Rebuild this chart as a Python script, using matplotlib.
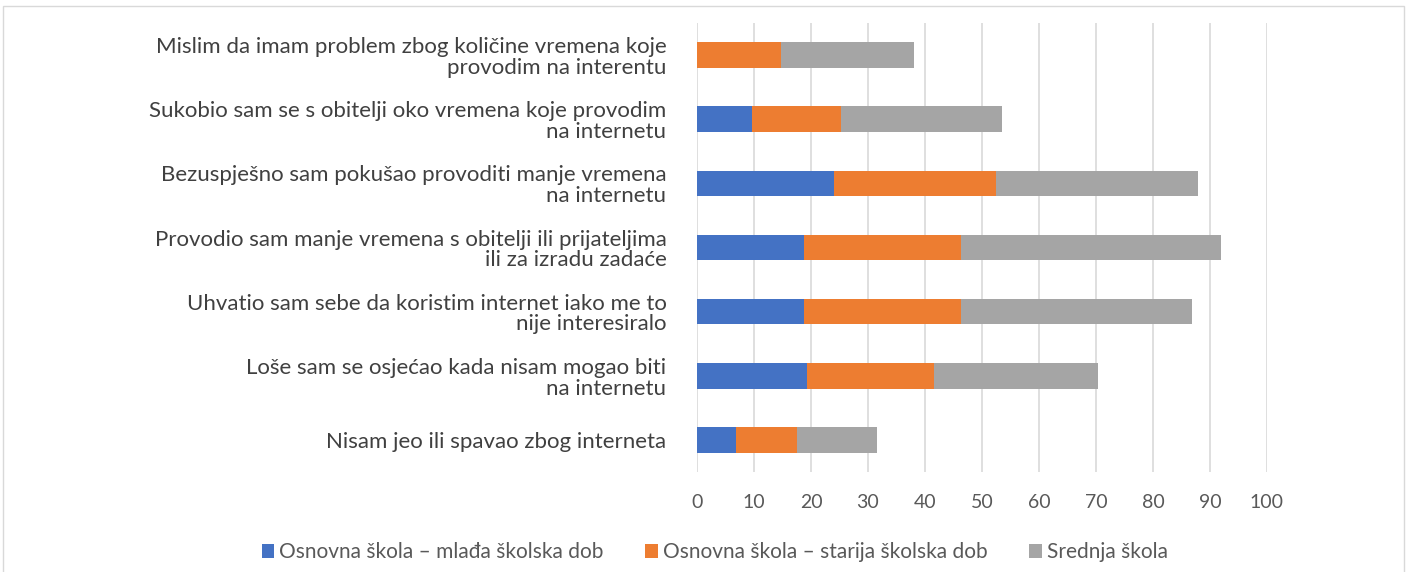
import matplotlib.pyplot as plt
from matplotlib.patches import Rectangle
import numpy as np

plt.rcParams['font.family'] = ['Lato', 'DejaVu Sans']

# kategorije (odozgo prema dolje)
categories = [
    'Mislim da imam problem zbog količine vremena koje\nprovodim na interentu',
    'Sukobio sam se s obitelji oko vremena koje provodim\nna internetu',
    'Bezuspješno sam pokušao provoditi manje vremena\nna internetu',
    'Provodio sam manje vremena s obitelji ili prijateljima\nili za izradu zadaće',
    'Uhvatio sam sebe da koristim internet iako me to\nnije interesiralo',
    'Loše sam se osjećao kada nisam mogao biti\nna internetu',
    'Nisam jeo ili spavao zbog interneta',
]
mlada = [0, 9.7, 24.0, 18.8, 18.8, 19.3, 6.9]
starija = [14.8, 15.5, 28.5, 27.5, 27.5, 22.2, 10.6]
srednja = [23.2, 28.4, 35.4, 45.6, 40.5, 28.9, 14.1]
series_names = ['Osnovna škola – mlađa školska dob',
                'Osnovna škola – starija školska dob',
                'Srednja škola']
colors = ['#4472c4', '#ed7d31', '#a5a5a5']
xticks = [0, 10, 20, 30, 40, 50, 60, 70, 80, 90, 100]

fig = plt.figure(figsize=(14.07, 5.72), dpi=100)
ax = fig.add_axes([0.4954, 0.1748, 0.405, 0.785])

y = np.arange(len(categories))[::-1]
left = np.zeros(len(categories))
for vals, name, c in zip([mlada, starija, srednja], series_names, colors):
    ax.barh(y, vals, left=left, height=0.4, color=c, label=name, zorder=3)
    left += np.array(vals)

ax.set_xlim(0, 100)
ax.set_ylim(-0.5, len(categories) - 0.5)
ax.set_xticks(xticks)
ax.set_xticklabels([str(t) for t in xticks])
ax.set_yticks(y)
ax.set_yticklabels(categories, ha='right', linespacing=1.05)
ax.tick_params(axis='x', length=0, labelsize=14, labelcolor='#595959', pad=16)
ax.tick_params(axis='y', length=0, labelsize=16, labelcolor='#404040', pad=22)
ax.grid(axis='x', color='#d9d9d9', linewidth=1.2, zorder=0)
for s in ax.spines.values():
    s.set_visible(False)

leg = fig.legend(loc='lower center', bbox_to_anchor=(0.508, -0.016), ncol=3, frameon=False,
                 fontsize=15, handlelength=0.6, handleheight=0.6, handletextpad=0.25,
                 columnspacing=2.0)
for t in leg.get_texts():
    t.set_color('#595959')

fig.patches.append(Rectangle((0.002, -0.01), 0.996, 1.0, transform=fig.transFigure,
                             fill=False, edgecolor='#d9d9d9', linewidth=1))

fig.savefig('out.png', dpi=100)
